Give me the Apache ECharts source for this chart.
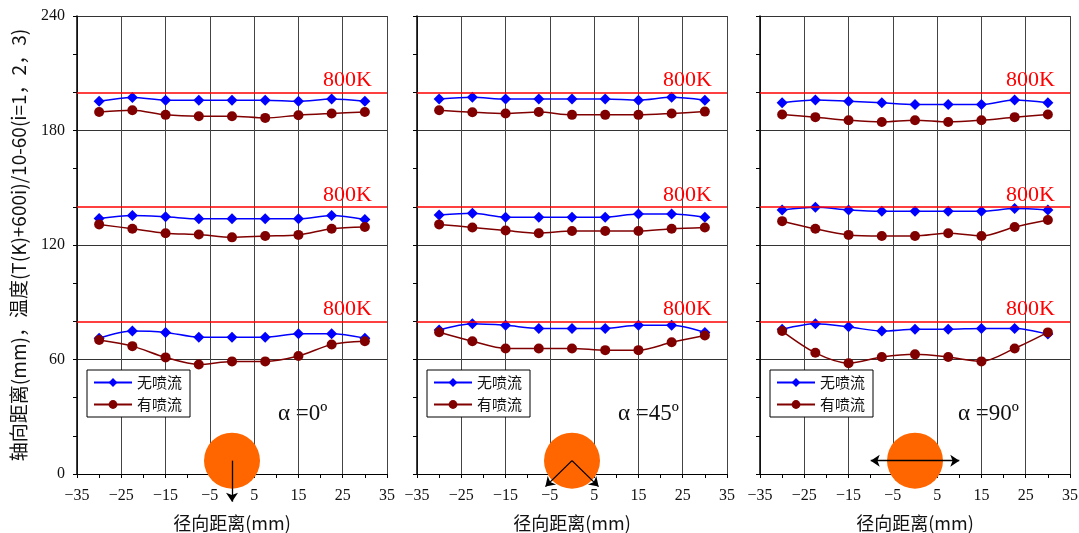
<!DOCTYPE html>
<html><head><meta charset="utf-8">
<script src="https://cdn.jsdelivr.net/npm/echarts@6/dist/echarts.min.js"></script>
<style>html,body{margin:0;padding:0;background:#fff}#c{width:1079px;height:533px}</style>
</head><body><div id="c"></div>
<script>
// ---- data ----
const radialPos = [-30, -22.5, -15, -7.5, 0, 7.5, 15, 22.5, 30];
const xTickLabels = [-35, -25, -15, -5, 5, 15, 25, 35];
const yTickLabels = [0, 60, 120, 180, 240];
const refLevels = [80, 140, 200];
const refLabel = '800K';
const angleLabels = ['α =0º', 'α =45º', 'α =90º'];
const seriesNames = ['无喷流', '有喷流'];
const xAxisTitle = '径向距离(mm)';
const yAxisTitle = '轴向距离(mm)，温度(T(K)+600i)/10-60(i=1，2，3)';

// α = 0°
const noJet0_i1 = [71.2, 74.9, 74.2, 71.7, 71.7, 71.7, 73.5, 73.5, 71.2];
const jet0_i1   = [70.2, 67.0, 61.1, 57.4, 59.0, 59.0, 61.8, 67.9, 69.6];
const noJet0_i2 = [133.9, 135.5, 134.8, 133.7, 133.7, 133.7, 133.7, 135.5, 133.4];
const jet0_i2   = [130.8, 128.5, 126.2, 125.5, 124.0, 124.7, 125.3, 128.5, 129.4];
const noJet0_i3 = [195.3, 197.3, 195.9, 195.9, 195.9, 195.9, 195.3, 196.5, 195.3];
const jet0_i3   = [189.7, 190.6, 188.2, 187.5, 187.5, 186.6, 188.0, 188.9, 189.7];
// α = 45°
const noJet1_i1 = [75.4, 78.7, 77.9, 76.3, 76.3, 76.3, 77.9, 77.9, 74.2];
const jet1_i1   = [74.3, 69.6, 65.8, 65.8, 65.8, 64.9, 64.9, 69.0, 72.6];
const noJet1_i2 = [135.7, 136.6, 134.6, 134.6, 134.6, 134.6, 136.2, 136.2, 134.6];
const jet1_i2   = [130.8, 129.2, 127.6, 126.2, 127.3, 127.3, 127.3, 128.5, 129.2];
const noJet1_i3 = [196.5, 197.4, 196.5, 196.5, 196.5, 196.5, 195.9, 197.4, 195.9];
const jet1_i3   = [190.6, 189.6, 188.9, 189.7, 188.2, 188.2, 188.2, 188.9, 189.9];
// α = 90°
const noJet2_i1 = [75.8, 78.7, 77.1, 74.9, 75.8, 75.8, 76.3, 76.3, 73.3];
const jet2_i1   = [74.9, 63.5, 58.1, 61.3, 62.7, 61.3, 59.0, 65.8, 74.2];
const noJet2_i2 = [138.4, 139.8, 138.4, 137.7, 137.7, 137.7, 137.7, 139.1, 138.4];
const jet2_i2   = [132.5, 128.5, 125.3, 124.7, 124.7, 126.2, 124.7, 129.4, 133.1];
const noJet2_i3 = [194.5, 196.0, 195.3, 194.5, 193.6, 193.6, 193.6, 196.0, 194.5];
const jet2_i3   = [188.4, 187.0, 185.4, 184.5, 185.4, 184.5, 185.4, 187.0, 188.4];

// nozzle sketch (circle + flow direction arrows), in data units
const nozzleCenter = [0, 7];
const arrows0 = [[[0, 7], [0, -14.5]]];
const arrows1 = [[[0, 7], [-6, -6.6]], [[0, 7], [6, -6.6]]];
const arrows2 = [[[-10, 7], [10, 7]]];

// ---- chart ----
const noJetSets = [[noJet0_i1, noJet0_i2, noJet0_i3], [noJet1_i1, noJet1_i2, noJet1_i3], [noJet2_i1, noJet2_i2, noJet2_i3]];
const jetSets = [[jet0_i1, jet0_i2, jet0_i3], [jet1_i1, jet1_i2, jet1_i3], [jet2_i1, jet2_i2, jet2_i3]];
const arrowSets = [arrows0, arrows1, arrows2];

const CJK = '"Noto Sans CJK SC", sans-serif';
const SERIF = '"Liberation Serif", serif';
const gridLefts = [77, 417, 760];
const gridWidth = 310;
const xFmt = v => (xTickLabels.includes(v) ? (v < 0 ? '\u2212' + (-v) : String(v)) : '');
const yFmt = v => (yTickLabels.includes(v) ? String(v) : '');
const T = 'rgba(0,0,0,0)';

const grids = [], xAxes = [], yAxes = [], series = [], legends = [], graphics = [];
for (let p = 0; p < 3; p++) {
  grids.push({ left: gridLefts[p], width: gridWidth, top: 16, bottom: 59, containLabel: false, outerBoundsMode: 'none' });
  xAxes.push({
    type: 'value', gridIndex: p, min: -35, max: 35, interval: 5,
    axisLine: { show: true, onZero: false, lineStyle: { color: '#000', width: 1 } },
    axisTick: { show: true, length: 4, lineStyle: { color: '#000' } },
    axisLabel: { formatter: xFmt, margin: 14, fontFamily: SERIF, fontSize: 16, color: '#111', showMinLabel: true, showMaxLabel: true },
    splitLine: { show: true, lineStyle: { color: ['#444', T], width: 1 } },
    name: xAxisTitle, nameLocation: 'middle', nameGap: 40,
    nameTextStyle: { fontFamily: CJK, fontSize: 18, color: '#111' }
  });
  yAxes.push({
    type: 'value', gridIndex: p, min: 0, max: 240, interval: 20,
    axisLine: { show: true, onZero: false, lineStyle: { color: '#000', width: 1.5 } },
    axisTick: { show: true, length: 4, lineStyle: { color: '#000' } },
    axisLabel: { show: p === 0, formatter: yFmt, margin: 12, fontFamily: SERIF, fontSize: 16, color: '#111' },
    splitLine: { show: true, lineStyle: { color: ['#333', T, T], width: 1 } },
    name: p === 0 ? yAxisTitle : '', nameLocation: 'middle', nameGap: 49,
    nameTextStyle: { fontFamily: CJK, fontSize: 19, color: '#111' }
  });
  for (let i = 0; i < 3; i++) {
    series.push({
      type: 'line', name: seriesNames[0], xAxisIndex: p, yAxisIndex: p, smooth: 0.3,
      data: radialPos.map((x, k) => [x, noJetSets[p][i][k]]),
      symbol: 'diamond', symbolSize: 11,
      itemStyle: { color: '#0000FF' }, lineStyle: { color: '#0000FF', width: 1.5 }, z: 4,
      markLine: i === 0 ? {
        silent: true, symbol: 'none', animation: false,
        lineStyle: { color: '#FF0000', width: 1.5, type: 'solid' },
        label: { show: true, position: 'insideEndTop', formatter: refLabel, color: '#FF0000',
                 fontFamily: SERIF, fontSize: 22, padding: [0, 14, 0, 0], distance: 1 },
        data: refLevels.map(v => ({ yAxis: v }))
      } : undefined
    });
    series.push({
      type: 'line', name: seriesNames[1], xAxisIndex: p, yAxisIndex: p, smooth: 0.3,
      data: radialPos.map((x, k) => [x, jetSets[p][i][k]]),
      symbol: 'circle', symbolSize: 10,
      itemStyle: { color: '#800000' }, lineStyle: { color: '#800000', width: 1.5 }, z: 5
    });
  }
  series.push({
    type: 'scatter', xAxisIndex: p, yAxisIndex: p, data: [nozzleCenter],
    symbol: 'circle', symbolSize: 56, itemStyle: { color: '#FF6600', opacity: 1 }, z: 6, silent: true
  });
  series.push({
    type: 'lines', coordinateSystem: 'cartesian2d', xAxisIndex: p, yAxisIndex: p, clip: false,
    symbol: p === 2 ? ['arrow', 'arrow'] : ['none', 'arrow'], symbolSize: 9,
    lineStyle: { color: '#000', width: 1.3, opacity: 1, curveness: 0 },
    data: arrowSets[p].map(c => ({ coords: c })), z: 7, silent: true
  });
  legends.push({
    data: seriesNames, orient: 'vertical', left: gridLefts[p] + 10, top: 370,
    itemWidth: 38, itemHeight: 11, itemGap: 7, padding: [5, 8, 5, 6],
    borderColor: '#000', borderWidth: 1, backgroundColor: '#fff',
    textStyle: { fontFamily: CJK, fontSize: 15, color: '#111' }, selectedMode: false
  });
  graphics.push({
    type: 'text', left: gridLefts[p] + [201, 201, 198][p], top: 402,
    style: { text: angleLabels[p], font: '23px "Liberation Serif", serif', fill: '#111' }
  });
}

const chart = echarts.init(document.getElementById('c'), null, { renderer: 'canvas' });
chart.setOption({
  animation: false, backgroundColor: '#fff',
  grid: grids, xAxis: xAxes, yAxis: yAxes, series, legend: legends, graphic: graphics
});
</script></body></html>
